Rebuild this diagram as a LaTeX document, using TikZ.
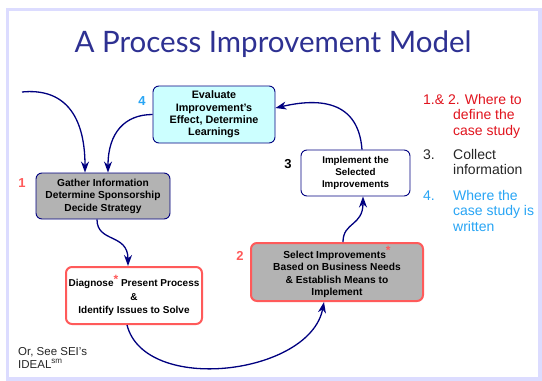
\documentclass[tikz,border=0pt]{standalone}
\usepackage{fontspec}
\setmainfont{Liberation Sans}
\newfontfamily\titlefont{Lato}
\usetikzlibrary{arrows.meta,calc}
\definecolor{navy}{RGB}{0,0,128}
\definecolor{boxgray}{RGB}{179,179,179}
\definecolor{boxcyan}{RGB}{204,255,255}
\definecolor{salmon}{RGB}{255,90,90}
\definecolor{legred}{RGB}{225,20,30}
\definecolor{legblue}{RGB}{40,165,245}
\definecolor{titleblue}{RGB}{46,49,146}
\definecolor{framelav}{RGB}{220,220,255}
\newcommand{\redstar}{\raisebox{3.5pt}{\textcolor{salmon}{\fontsize{12}{12}\selectfont*}}}
\begin{document}
\begin{tikzpicture}[x=1pt,y=-1pt,
  box/.style={rounded corners=6pt, align=center, inner sep=0pt,
    font=\bfseries\fontsize{10.2}{12.4}\selectfont},
  bluebox/.style={box, draw=navy, line width=0.9pt},
  redbox/.style={box, draw=salmon, line width=2pt},
  arr/.style={draw=navy, line width=1.3pt, -{Stealth[length=11pt,width=8pt,inset=3.5pt]}},
  steplabel/.style={font=\bfseries\fontsize{13}{13}\selectfont},
  legend/.style={anchor=north west, align=left, inner sep=0pt, font=\fontsize{14}{15.5}\selectfont}
]
\useasboundingbox (0,0) rectangle (542,381);
\fill[white] (0,0) rectangle (542,381);
\fill[framelav] (6,8) rectangle (542,381);
\fill[white] (9,11) rectangle (538,377);

% title
\node[text=titleblue, font=\titlefont\fontsize{29.5}{29.5}\selectfont] (title) at (273,44) {A Process Improvement Model};

% boxes
\node[bluebox, fill=boxgray, minimum width=134pt, minimum height=46pt] (gather) at (103,196)
  {Gather Information\\Determine Sponsorship\\Decide Strategy};
\node[bluebox, fill=boxcyan, minimum width=122pt, minimum height=57pt,
  font=\bfseries\fontsize{10.8}{12.2}\selectfont] (evaluate) at (214,114.5)
  {Evaluate\\Improvement's\\Effect, Determine\\Learnings};
\node[bluebox, fill=white, minimum width=109pt, minimum height=46pt,
  font=\bfseries\fontsize{9.8}{12}\selectfont] (implement) at (355.5,173)
  {Implement the\\Selected\\Improvements};
\node[redbox, fill=boxgray, minimum width=172pt, minimum height=58pt] (select) at (337,272)
  {Select Improvements\redstar\\Based on Business Needs\\\& Establish Means to\\Implement};
\node[redbox, fill=white, minimum width=136pt, minimum height=57pt,
  font=\bfseries\fontsize{10}{13.5}\selectfont] (diagnose) at (134,295.5)
  {Diagnose\redstar{} Present Process\\\&\\Identify Issues to Solve};

% step labels
\node[steplabel, text=salmon] (l1) at (22,183) {1};
\node[steplabel, text=legblue] (l4) at (142,101) {4};
\node[steplabel, text=black] (l3) at (288,164) {3};
\node[steplabel, text=salmon] (l2) at (240,256) {2};

% connectors
\coordinate (entry) at (22,92);
\draw[arr] (entry) .. controls (62,88) and ($(gather.north)+(-18,-60)$) .. ($(gather.north)+(-18,0)$);
\draw[arr] (evaluate.west) .. controls (125,114.5) and ($(gather.north)+(5,-40)$) .. ($(gather.north)+(5,0)$);
\draw[arr] ($(gather.south)+(-6,0)$) .. controls (97,243) and (128,233) .. ($(diagnose.north)+(-6,0)$);
\draw[arr] ($(diagnose.south)+(-7,0)$) .. controls (145,395) and (310,375) .. ($(select.south)+(-13,0)$);
\draw[arr] ($(select.north)+(6,0)$) .. controls (343,222) and (363,226) .. ($(implement.south)+(7.5,0)$);
\draw[arr] ($(implement.north)+(6.5,0)$) .. controls (358,95) and (310,100) .. ($(evaluate.east)+(0,-6.5)$);

% legend
\node[legend, text=legred] (leg12) at (423,94) {1.\& 2. Where to\\\hspace*{30pt}define the\\\hspace*{30pt}case study};
\node[legend, text=black!85] (leg3) at (423,149) {\makebox[30pt][l]{3.}Collect\\\hspace*{30pt}information};
\node[legend, text=legblue] (leg4) at (423,190) {\makebox[30pt][l]{4.}Where the\\\hspace*{30pt}case study is\\\hspace*{30pt}written};

% footnote
\node[anchor=north west, align=left, inner sep=0pt, text=black!85,
  font=\fontsize{11.5}{13}\selectfont] (sei) at (18,347) {Or, See SEI's\\IDEAL\textsuperscript{sm}};
\end{tikzpicture}
\end{document}
